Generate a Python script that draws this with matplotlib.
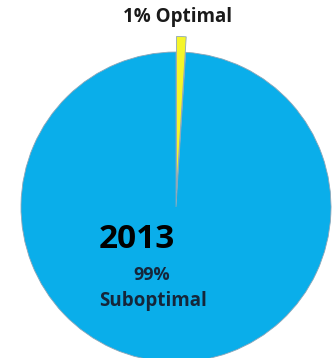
import matplotlib.pyplot as plt

labels = ['Optimal', 'Suboptimal']
shares = [1, 99]
year = '2013'

colors = ['#f5f52a', '#0aaeea']

fig = plt.figure(figsize=(3.35, 3.58), dpi=100)
ax = fig.add_axes([0, 0, 1, 1])

# pie drawn in pixel coordinates (explode is in the same units)
R = 155
ax.pie(shares, colors=colors, startangle=90, counterclock=False,
       explode=[0.1 * R, 0], radius=R, center=(176, 151),
       wedgeprops=dict(edgecolor='#8da6b8', linewidth=0.6))
ax.set_xlim(0, 335)
ax.set_ylim(0, 358)
ax.set_aspect('equal')
ax.axis('off')

font = 'Open Sans'
ax.text(178, 341, f'{shares[0]}% {labels[0]}', ha='center', va='center',
        fontsize=13.5, fontweight='bold', family=font, color='#1a1a1a')
ax.text(137, 118, year, ha='center', va='center',
        fontsize=24, fontweight='bold', family=font, color='black')
ax.text(152, 83, f'{shares[1]}%', ha='center', va='center',
        fontsize=13, fontweight='bold', family=font, color='#15263a')
ax.text(153, 57, labels[1], ha='center', va='center',
        fontsize=13.5, fontweight='bold', family=font, color='#15263a')

fig.savefig('out.png', dpi=100)
